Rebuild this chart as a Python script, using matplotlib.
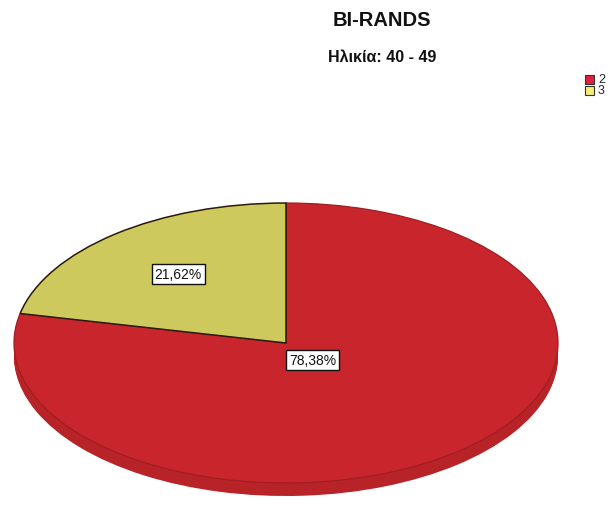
import matplotlib
matplotlib.use("Agg")
import matplotlib.pyplot as plt
import numpy as np
from matplotlib.patches import Rectangle

plt.rcParams['font.family'] = ['Liberation Sans', 'DejaVu Sans']

title = "BI-RANDS"
subtitle = "Ηλικία: 40 - 49"
categories = ["2", "3"]
percentages = [78.38, 21.62]

top_colors = ["#C8262C", "#CEC95C"]
side_colors = ["#B82327", "#B3AE4C"]
edge_colors = ["#a01e22", "#2a1a10"]
legend_colors = ["#E0203C", "#F4EE72"]
label_radius = [0.155, 0.63]

W, H = 616, 506
fig = plt.figure(figsize=(W / 100, H / 100), dpi=100)
ax = fig.add_axes([0, 0, 1, 1])

# pie geometry in pixels: centre, horizontal/vertical radii, extrusion depth
cx, cy, rx, ry, depth = 286, 344, 272, 140, 13

# draw order: yellow slice from 12 o'clock counter-clockwise, then red
order = [1, 0]
vals = [percentages[i] for i in order]

# extruded side of the pie: stacked copies shifted downward
d = depth / ry
for k in np.linspace(d, 0.0, 15)[:-1]:
    ax.pie(vals, colors=[side_colors[i] for i in order], startangle=90,
           counterclock=True, center=(0, -k),
           wedgeprops=dict(linewidth=0))
ax.add_patch(Rectangle((-1, -d), 2, d, facecolor=side_colors[0], lw=0, zorder=0.5))

wedges, _ = ax.pie(vals, colors=[top_colors[i] for i in order], startangle=90,
                   counterclock=True, wedgeprops=dict(linewidth=0.9))
for w, i in zip(wedges, order):
    w.set_edgecolor(edge_colors[i])
# yellow slice outline drawn on top so the shared borders stay dark
wedges[0].set_zorder(wedges[1].get_zorder() + 0.1)
wedges[0].set_linewidth(1.1)

# percentage labels in boxes
for w, i in zip(wedges, order):
    mid = np.deg2rad((w.theta1 + w.theta2) / 2)
    r = label_radius[i]
    txt = f"{percentages[i]:.2f}%".replace(".", ",")
    ax.text(r * np.cos(mid), r * np.sin(mid), txt, ha="center", va="center",
            fontsize=10, color="#111111", zorder=10,
            bbox=dict(boxstyle="square,pad=0.22", facecolor="white",
                      edgecolor="#111111", linewidth=1.0))

ax.set_aspect("auto")
ax.set_xlim(-cx / rx, (W - cx) / rx)
ax.set_ylim((cy - H) / ry, cy / ry)
ax.axis("off")

fig.text(382 / W, 1 - 21 / H, title, ha="center", va="center",
         fontsize=14.5, fontweight="bold", color="#111111")
fig.text(382 / W, 1 - 57 / H, subtitle, ha="center", va="center",
         fontsize=11.5, fontweight="bold", color="#111111")

# legend
for j, (lab, col) in enumerate(zip(categories, legend_colors)):
    y0 = 75.5 + j * 11
    fig.patches.append(Rectangle((584.5 / W, 1 - (y0 + 9) / H), 9 / W, 9 / H,
                                 transform=fig.transFigure, facecolor=col,
                                 edgecolor="#333333", linewidth=0.8))
    fig.text(598 / W, 1 - (y0 + 4.5) / H, lab, ha="left", va="center",
             fontsize=9, color="#222222")

fig.savefig("out.png", dpi=100, facecolor="white")
